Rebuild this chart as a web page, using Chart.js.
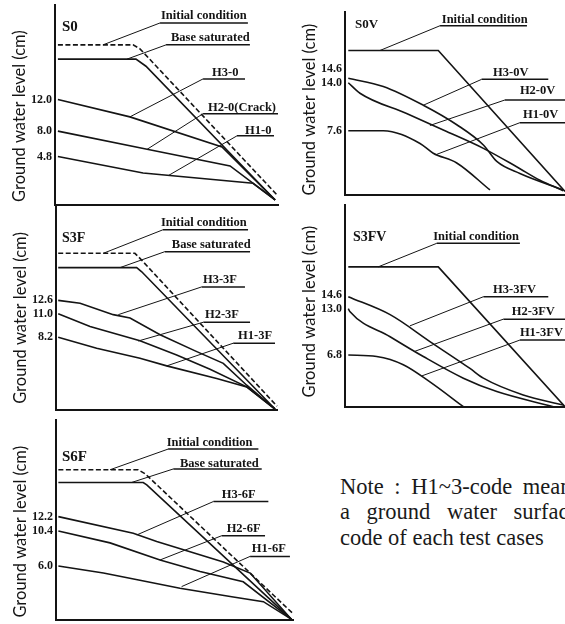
<!DOCTYPE html>
<html><head><meta charset="utf-8">
<script src="https://cdn.jsdelivr.net/npm/chart.js@4/dist/chart.umd.min.js"></script>
<style>
html,body{margin:0;padding:0;background:#fff;}
body{width:565px;height:624px;position:relative;overflow:hidden;}
canvas{position:absolute;left:0;top:0;}
.note{position:absolute;left:340px;font-family:"Liberation Serif",serif;font-size:22.5px;line-height:25px;white-space:nowrap;color:#1a1a1a;}
</style></head><body>
<div class="note" style="top:474px;word-spacing:5px">Note : H1~3-code means</div>
<div class="note" style="top:499px;word-spacing:11px">a ground water surface</div>
<div class="note" style="top:525px;">code of each test cases</div>
<script>
// ---------- DATA (x: relative horizontal distance 0-100, y: ground water level in cm) ----------
const Y_TITLE = 'Ground water level (cm)';

// S0
const S0_TICKS = [12.0, 8.0, 4.8];
const S0_LABELS = ['Initial condition', 'Base saturated', 'H3-0', 'H2-0(Crack)', 'H1-0'];
const S0_INITIAL_X = [1.3, 35.0, 38.1, 100];
const S0_INITIAL_Y = [18.9, 18.9, 18.4, -0.2];
const S0_BASE_X = [1.3, 36.3, 40.8, 98.7];
const S0_BASE_Y = [17.1, 17.1, 16.2, -0.7];
const S0_H3_X = [1.3, 33.6, 74.9, 98.7];
const S0_H3_Y = [12.0, 9.8, 6.0, -0.7];
const S0_H2_X = [1.3, 41.3, 78.5, 98.7];
const S0_H2_Y = [8.0, 5.7, 3.6, -0.7];
const S0_H1_X = [1.3, 39.5, 88.8, 98.7];
const S0_H1_Y = [4.8, 2.7, 1.4, -0.7];

// S0V
const S0V_TICKS = [14.6, 14.0, 7.6];
const S0V_LABELS = ['Initial condition', 'H3-0V', 'H2-0V', 'H1-0V'];
const S0V_INITIAL_X = [1.5, 42.4, 100];
const S0V_INITIAL_Y = [18.3, 18.3, -0.5];
const S0V_H3_X = [1.5, 17.4, 35.6, 50.8, 62.9, 69.0, 79.5, 99.2];
const S0V_H3_Y = [14.6, 13.5, 11.0, 8.4, 5.7, 3.5, 1.9, -0.3];
const S0V_H2_X = [1.5, 6.8, 28.0, 46.2, 62.9, 78.0, 88.6, 99.2];
const S0V_H2_Y = [14.0, 12.6, 9.9, 7.5, 5.25, 2.8, 1.0, -0.4];
const S0V_H1_X = [1.5, 17.4, 34.1, 40.1, 50.8, 65.9];
const S0V_H1_Y = [7.6, 7.6, 5.9, 4.6, 3.3, -0.3];

// S3F
const S3F_TICKS = [12.6, 11.0, 8.2];
const S3F_LABELS = ['Initial condition', 'Base saturated', 'H3-3F', 'H2-3F', 'H1-3F'];
const S3F_INITIAL_X = [1.0, 35.7, 38.0, 100];
const S3F_INITIAL_Y = [18.2, 18.2, 17.6, 0.0];
const S3F_BASE_X = [1.0, 36.5, 38.8, 99.1];
const S3F_BASE_Y = [16.5, 16.5, 16.0, -0.33];
const S3F_H3_X = [1.0, 10.9, 25.9, 33.5, 47.1, 63.7, 75.7, 86.3, 99.1];
const S3F_H3_Y = [12.6, 12.25, 10.9, 10.5, 8.5, 6.5, 5.1, 2.5, -0.33];
const S3F_H2_X = [1.0, 15.4, 38.0, 54.6, 69.7, 86.3, 99.1];
const S3F_H2_Y = [11.0, 9.5, 7.8, 6.1, 4.4, 2.3, -0.33];
const S3F_H1_X = [1.0, 18.4, 38.0, 50.1, 72.7, 86.3, 99.1];
const S3F_H1_Y = [8.2, 6.9, 5.7, 4.8, 3.3, 2.3, -0.33];

// S3FV
const S3FV_TICKS = [14.6, 13.0, 6.8];
const S3FV_LABELS = ['Initial condition', 'H3-3FV', 'H2-3FV', 'H1-3FV'];
const S3FV_INITIAL_X = [1.5, 42.4, 100];
const S3FV_INITIAL_Y = [18.6, 18.6, -0.12];
const S3FV_H3_X = [1.5, 20.5, 38.6, 56.8, 62.9, 81.0, 99.2];
const S3FV_H3_Y = [14.6, 12.2, 8.6, 5.0, 3.7, 1.45, 0.1];
const S3FV_H2_X = [1.5, 2.3, 20.5, 35.6, 53.8, 69.0, 94.7];
const S3FV_H2_Y = [13.0, 12.6, 9.25, 6.6, 3.7, 1.9, -0.12];
const S3FV_H1_X = [1.5, 14.4, 26.5, 38.6, 53.8];
const S3FV_H1_Y = [6.8, 6.6, 5.5, 3.2, -0.12];

// S6F
const S6F_TICKS = [12.2, 10.4, 6.0];
const S6F_LABELS = ['Initial condition', 'Base saturated', 'H3-6F', 'H2-6F', 'H1-6F'];
const S6F_INITIAL_X = [1.0, 34.7, 37.6, 100];
const S6F_INITIAL_Y = [18.1, 18.1, 17.6, 0.0];
const S6F_BASE_X = [1.0, 36.8, 38.3, 99.4];
const S6F_BASE_Y = [16.5, 16.5, 16.2, -0.73];
const S6F_H3_X = [1.0, 32.6, 42.5, 70.6, 81.9, 99.4];
const S6F_H3_Y = [12.2, 10.1, 9.06, 6.5, 5.1, -0.73];
const S6F_H2_X = [1.0, 22.8, 43.9, 60.8, 79.0, 99.4];
const S6F_H2_Y = [10.4, 8.9, 6.75, 5.3, 4.0, -0.73];
const S6F_H1_X = [1.0, 20.0, 35.4, 52.3, 74.8, 87.5, 99.4];
const S6F_H1_Y = [6.0, 5.1, 4.2, 3.2, 2.1, 1.5, -0.73];

// ---------- LAYOUT (positions / styles) ----------
const W = 565, H = 624;
const INK = '#141414';
const LABEL_FONT = 'bold 12.5px "Liberation Serif", serif';
const TICK_FONT = 'bold 12px "Liberation Serif", serif';
const YT_FONT = '16.5px Lato, "DejaVu Sans", sans-serif';

// annotation layout in data units: t = text left/middle, u = [x1, x2, y] underline, l = leader start
const PANELS = [
  { name:'S0', box:[55,5,278,205], y:[-1.34,23.94], ticks:S0_TICKS, ytitle:9.9,
    title:[3.1,21.2], titleFont:'bold 15px "Liberation Serif", serif', curved:false,
    series:[[S0_INITIAL_X,S0_INITIAL_Y,true],[S0_BASE_X,S0_BASE_Y],[S0_H3_X,S0_H3_Y],[S0_H2_X,S0_H2_Y],[S0_H1_X,S0_H1_Y]],
    labels:S0_LABELS,
    pos:[{t:[47.5,22.55],u:[47.1,86.5,21.67],l:[21.5,18.9]},
         {t:[52.0,19.77],u:[49.8,87.4,18.9],l:[32.3,17.1]},
         {t:[70.4,15.35],u:[66.4,85.2,14.6],l:[33.6,9.8]},
         {t:[68.6,10.9],u:[66.4,100,10.2],l:[41.3,5.7]},
         {t:[85.2,8.1],u:[81.6,98.2,7.4],l:[50.7,2.36]}]},
  { name:'S0V', box:[345,12,565,195], y:[-0.97,23.43], ticks:S0V_TICKS, ytitle:10.4,
    title:[4.5,21.7], titleFont:'bold 13px "Liberation Serif", serif', curved:true,
    series:[[S0V_INITIAL_X,S0V_INITIAL_Y],[S0V_H3_X,S0V_H3_Y],[S0V_H2_X,S0V_H2_Y],[S0V_H1_X,S0V_H1_Y]],
    labels:S0V_LABELS,
    pos:[{t:[44.0,22.4],u:[43.2,82.7,21.6],l:[15.9,18.3]},
         {t:[67.3,15.3],u:[62.1,92.4,14.45],l:[35.6,11.0]},
         {t:[79.5,12.9],u:[72.7,100,11.7],l:[38.6,8.3]},
         {t:[80.9,9.7],u:[79.5,100,8.67],l:[41.7,4.45]}]},
  { name:'S3F', box:[56,205,277,409.5], y:[-0.39,23.95], ticks:S3F_TICKS, ytitle:10.5,
    title:[2.7,20.0], titleFont:'bold 14px "Liberation Serif", serif', curved:false,
    series:[[S3F_INITIAL_X,S3F_INITIAL_Y,true],[S3F_BASE_X,S3F_BASE_Y],[S3F_H3_X,S3F_H3_Y],[S3F_H2_X,S3F_H2_Y],[S3F_H1_X,S3F_H1_Y]],
    labels:S3F_LABELS,
    pos:[{t:[47.5,21.8],u:[48.4,86.9,21.0],l:[21.4,18.2]},
         {t:[52.4,19.2],u:[49.3,87.8,18.4],l:[29.0,16.5]},
         {t:[66.5,15.0],u:[65.9,85.5,14.2],l:[28.2,10.9]},
         {t:[67.4,10.9],u:[66.7,87.8,10.0],l:[37.2,7.76]},
         {t:[82.4,8.4],u:[80.2,99.1,7.5],l:[50.1,4.8]}]},
  { name:'S3FV', box:[345,205,565,406.7], y:[-0.12,26.88], ticks:S3FV_TICKS, ytitle:12.6,
    title:[3.6,22.6], titleFont:'bold 14px "Liberation Serif", serif', curved:true,
    series:[[S3FV_INITIAL_X,S3FV_INITIAL_Y],[S3FV_H3_X,S3FV_H3_Y],[S3FV_H2_X,S3FV_H2_Y],[S3FV_H1_X,S3FV_H1_Y]],
    labels:S3FV_LABELS,
    pos:[{t:[40.1,22.6],u:[41.7,79.5,21.75],l:[15.1,18.6]},
         {t:[67.3,15.5],u:[62.9,92.4,14.6],l:[29.5,10.7]},
         {t:[75.8,12.6],u:[72.0,100,11.6],l:[31.8,7.3]},
         {t:[79.5,9.84],u:[79.5,100,8.8],l:[34.9,4.0]}]},
  { name:'S6F', box:[56,420,293,619.5], y:[-0.74,24.36], ticks:S6F_TICKS, ytitle:10.3,
    title:[2.5,19.75], titleFont:'bold 15px "Liberation Serif", serif', curved:false,
    series:[[S6F_INITIAL_X,S6F_INITIAL_Y,true],[S6F_BASE_X,S6F_BASE_Y],[S6F_H3_X,S6F_H3_Y],[S6F_H2_X,S6F_H2_Y],[S6F_H1_X,S6F_H1_Y]],
    labels:S6F_LABELS,
    pos:[{t:[46.7,21.5],u:[47.3,85.4,20.7],l:[22.8,18.1]},
         {t:[52.3,18.9],u:[49.5,86.8,18.2],l:[31.9,16.5]},
         {t:[69.9,14.9],u:[66.4,89.6,14.1],l:[34.1,9.9]},
         {t:[72.0,10.7],u:[69.9,88.2,9.8],l:[43.9,6.75]},
         {t:[82.6,8.2],u:[81.9,98.7,7.2],l:[53.0,3.4]}]}
];

function makeDataset(xs, ys, dashed, curved, idx){
  return {
    data: xs.map((x,i)=>({x:x, y:ys[i]})),
    borderColor: INK, borderWidth: 1.6,
    borderDash: dashed ? [5,2.5] : [],
    pointRadius: 0, fill:false, clip:false,
    tension: (curved && idx>0) ? 0.35 : 0,
    cubicInterpolationMode: (curved && idx>0) ? 'monotone' : 'default'
  };
}

function panelPlugin(P){
  return {
    id: 'panel' + P.name,
    afterDatasetsDraw(chart){
      const ctx = chart.ctx, ca = chart.chartArea, x = chart.scales.x, y = chart.scales.y;
      const px = v => x.getPixelForValue(v), py = v => y.getPixelForValue(v);
      ctx.save();
      ctx.strokeStyle = INK; ctx.fillStyle = INK;
      P.labels.forEach((txt,i)=>{
        const L = P.pos[i];
        ctx.lineWidth = 1;
        ctx.beginPath(); ctx.moveTo(px(L.l[0]), py(L.l[1])); ctx.lineTo(px(L.u[0]), py(L.u[2])); ctx.stroke();
        ctx.lineWidth = 1.5;
        ctx.beginPath(); ctx.moveTo(px(L.u[0]), py(L.u[2])); ctx.lineTo(px(L.u[1]), py(L.u[2])); ctx.stroke();
        ctx.font = LABEL_FONT; ctx.textBaseline = 'middle'; ctx.textAlign = 'left';
        ctx.fillText(txt, px(L.t[0]), py(L.t[1]));
      });
      // panel title
      ctx.font = P.titleFont; ctx.textAlign = 'left'; ctx.textBaseline = 'middle';
      ctx.fillText(P.name, px(P.title[0]), py(P.title[1]));
      // tick labels (with de-cluttering of close values)
      const pts = P.ticks.map(v=>({v:v, p:py(v)})).sort((a,b)=>b.p-a.p);
      for (let i=1;i<pts.length;i++) if (pts[i-1].p - pts[i].p < 14) pts[i].p = pts[i-1].p - 14;
      ctx.font = TICK_FONT; ctx.textAlign = 'right';
      pts.forEach(t=>ctx.fillText(t.v.toFixed(1), ca.left - 3, t.p));
      // axis title
      ctx.translate(ca.left - 35, py(P.ytitle));
      ctx.rotate(-Math.PI/2);
      ctx.font = YT_FONT; ctx.textAlign = 'center'; ctx.textBaseline = 'middle';
      ctx.fillText(Y_TITLE, 0, 0);
      ctx.restore();
    }
  };
}

PANELS.forEach(P=>{
  const cv = document.createElement('canvas');
  cv.width = W; cv.height = H;
  cv.style.width = W + 'px'; cv.style.height = H + 'px';
  document.body.appendChild(cv);
  const [L,T,R,B] = P.box;
  new Chart(cv, {
    type: 'line',
    data: { datasets: P.series.map((s,i)=>makeDataset(s[0], s[1], !!s[2], P.curved, i)) },
    options: {
      responsive:false, animation:false, devicePixelRatio:1,
      layout:{ padding:{ left:L, top:T, right:W-R, bottom:H-B } },
      plugins:{ legend:{display:false}, tooltip:{enabled:false} },
      scales:{
        x:{ type:'linear', min:0, max:100, grid:{display:false},
            ticks:{display:false}, border:{display:true, color:INK, width:2},
            afterFit(s){ s.height = 0; } },
        y:{ type:'linear', min:P.y[0], max:P.y[1], grid:{display:false},
            ticks:{display:false}, border:{display:true, color:INK, width:2},
            afterFit(s){ s.width = 0; } }
      }
    },
    plugins:[panelPlugin(P)]
  });
});
</script>
</body></html>
